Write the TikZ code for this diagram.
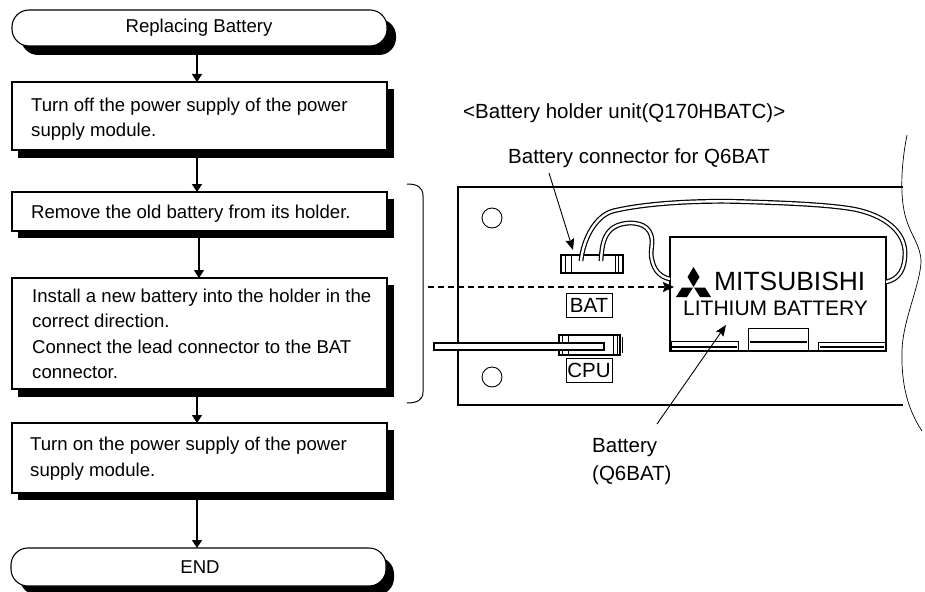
\documentclass[tikz,border=0pt]{standalone}
\usepackage{fontspec}
\setmainfont{Liberation Sans}
\usetikzlibrary{arrows.meta}
\tikzset{
 lbl/.style={inner sep=0pt,anchor=base west,font=\fontsize{18.6}{20}\selectfont},
 rlbl/.style={inner sep=0pt,anchor=base west,font=\fontsize{20.5}{22}\selectfont},
 proc/.style={draw,line width=1.1pt,fill=white,anchor=north west,inner sep=0pt},
 term/.style={draw,line width=1.1pt,fill=white,rounded corners=17pt,anchor=north west,inner sep=0pt},
 flow/.style={line width=1.6pt,-{Triangle[length=8pt,width=10pt]}},
 ptr/.style={line width=0.9pt,-{Stealth[length=11pt,width=9pt,inset=1.5pt]}},
 wire/.style={line width=4.8pt,black,line cap=butt},
 wirein/.style={line width=2.4pt,white,line cap=butt},
 tag/.style={draw,line width=.6pt,inner sep=0pt,minimum width=46pt,minimum height=24pt,font=\fontsize{20.5}{22}\selectfont}
}
\begin{document}
\begin{tikzpicture}[x=1pt,y=-1pt]
\useasboundingbox (0,0) rectangle (925,591);
% flowchart shadows
\begin{scope}
\clip (0,0) rectangle (925,591);
\fill[rounded corners=17pt] (21,19) rectangle (396,55);
\fill (18,89) rectangle (394,158);
\fill (18,199) rectangle (394,238);
\fill (18,285) rectangle (394,397);
\fill (18,430) rectangle (394,500);
\fill[rounded corners=17pt] (20,557) rectangle (394,595);
\end{scope}
% flowchart boxes
\draw[term] (12,10) rectangle (387,46);
\node[lbl,anchor=base] (t0) at (199,33) {Replacing Battery};
\draw[proc] (12,82) rectangle (387,150);
\coordinate (b1) at (197,82);
\node[lbl] (t1a) at (31,111) {Turn off the power supply of the power};
\node[lbl] (t1c) at (31,136) {supply module.};
\draw[proc] (12,192) rectangle (387,231);
\coordinate (b2) at (197,192);
\node[lbl] (t2) at (31,218) {Remove the old battery from its holder.};
\draw[proc] (12,278) rectangle (387,389);
\coordinate (b3) at (199,278);
\node[lbl] (t3a) at (32,302) {Install a new battery into the holder in the};
\node[lbl] (t3b) at (32,327) {correct direction.};
\node[lbl] (t3c) at (32,353) {Connect the lead connector to the BAT};
\node[lbl] (t3d) at (32,378) {connector.};
\draw[proc] (12,423) rectangle (387,493);
\coordinate (b4) at (197,423);
\node[lbl] (t4a) at (30,450) {Turn on the power supply of the power};
\node[lbl] (t4b) at (30,476) {supply module.};
\draw[term] (11,548) rectangle (386,586);
\coordinate (b5) at (197,548);
\node[lbl,anchor=base] (t5) at (200,573) {END};
% flow arrows
\coordinate (a0) at (197,55); \coordinate (a1) at (197,158);
\coordinate (a2) at (199,238); \coordinate (a3) at (197,397);
\coordinate (a4) at (197,500);
\draw[flow] (a0) -- (b1);
\draw[flow] (a1) -- (b2);
\draw[flow] (a2) -- (b3);
\draw[flow] (a3) -- (b4);
\draw[flow] (a4) -- (b5);
% bracket
\draw[line width=1pt] (407,184) .. controls (417,184) and (423,187) .. (423,196) -- (423,392) .. controls (423,400) and (417,403) .. (407,403);
% right text
\node[rlbl] (h1) at (463,118) {<Battery holder unit(Q170HBATC)>};
\node[rlbl] (h2) at (508,163) {Battery connector for Q6BAT};
% plate
\draw[line width=1.1pt] (903,187) -- (458,187) -- (458,405) -- (903,405);
\draw[line width=.7pt] (907,135) .. controls (901,165) and (900,195) .. (905,215)
 .. controls (910,235) and (921,245) .. (921,262) .. controls (920,285) and (903,320) .. (902,350)
 .. controls (901,385) and (908,410) .. (922,431);
% holes
\draw[line width=.9pt] (492,218) circle (10pt);
\draw[line width=.9pt] (492,377) circle (10pt);
% battery
\draw[line width=1.2pt,fill=white] (670,237) rectangle (886,351);
% BAT connector
\draw[line width=1.2pt,fill=white] (561,255) rectangle (623,273);
\draw[line width=1pt] (565,255) -- (565,273) (571,255) -- (571,273) (615,255) -- (615,273) (618,255)--(618,273);
% wires
\foreach \s in {wire,wirein}{
\draw[\s] (581,261) .. controls (583,240) and (595,216) .. (613,211)
 .. controls (650,202) and (710,200) .. (753,202) .. controls (790,203) and (830,205) .. (853,209)
 .. controls (885,215) and (905,232) .. (905,253) .. controls (905,268) and (900,279) .. (886,282);
\draw[\s] (601,261) .. controls (602,245) and (603,224) .. (630,223)
 .. controls (645,223) and (651,230) .. (652,240) .. controls (652,250) and (650,252) .. (652,260)
 .. controls (654,270) and (660,277) .. (670,279);
}
% CPU connector
\draw[line width=1.4pt,fill=white] (559,335) rectangle (620,355);
\draw[line width=1pt] (562,335) -- (562,355) (568,335) -- (568,355) (613,335) -- (613,355) (617,335)--(617,355) (622,337)--(622,353);
\draw[line width=1.2pt,fill=white] (434,343) rectangle (604,350);
% labels
\node[tag] (bat) at (589,305) {BAT};
\node[tag] (cpu) at (589,370) {CPU};
% battery details
\draw[line width=1pt] (671,351) rectangle (738,341);
\draw[line width=1.5pt] (672,347) -- (737,347);
\draw[line width=1pt,fill=white] (748,350) rectangle (808,328);
\draw[line width=1.5pt] (750,342) -- (807,342);
\draw[line width=1pt] (818,351) rectangle (885,342);
\draw[line width=1.5pt] (820,347) -- (884,347);
% logo
\fill (693.5,267) -- (699.5,277) -- (693.5,287) -- (687.5,277) -- cycle;
\fill (693,287.5) -- (682,287.5) -- (676,297) -- (687,297) -- cycle;
\fill (694,287.5) -- (705,287.5) -- (711,297) -- (700,297) -- cycle;
\node[inner sep=0pt,anchor=base west,font=\fontsize{26.4}{28}\selectfont] (m) at (714,290) {MITSUBISHI};
\node[inner sep=0pt,anchor=base west,font=\fontsize{21}{22}\selectfont] (l) at (683,315) {LITHIUM BATTERY};
% dashed arrow
\coordinate (d0) at (428,287); \coordinate (d1) at (674,287);
\draw[line width=1.3pt,dash pattern=on 6pt off 4pt,-{Stealth[length=11pt,width=10pt,inset=1.5pt]}] (d0) -- (d1);
% pointers
\coordinate (p0) at (549,173); \coordinate (p1) at (573,250);
\draw[ptr] (p0) -- (p1);
\coordinate (p2) at (657,424); \coordinate (p3) at (726,325);
\draw[ptr] (p2) -- (p3);
\node[rlbl] (t6a) at (592,452) {Battery};
\node[rlbl] (t6b) at (592,480) {(Q6BAT)};
\end{tikzpicture}
\end{document}
